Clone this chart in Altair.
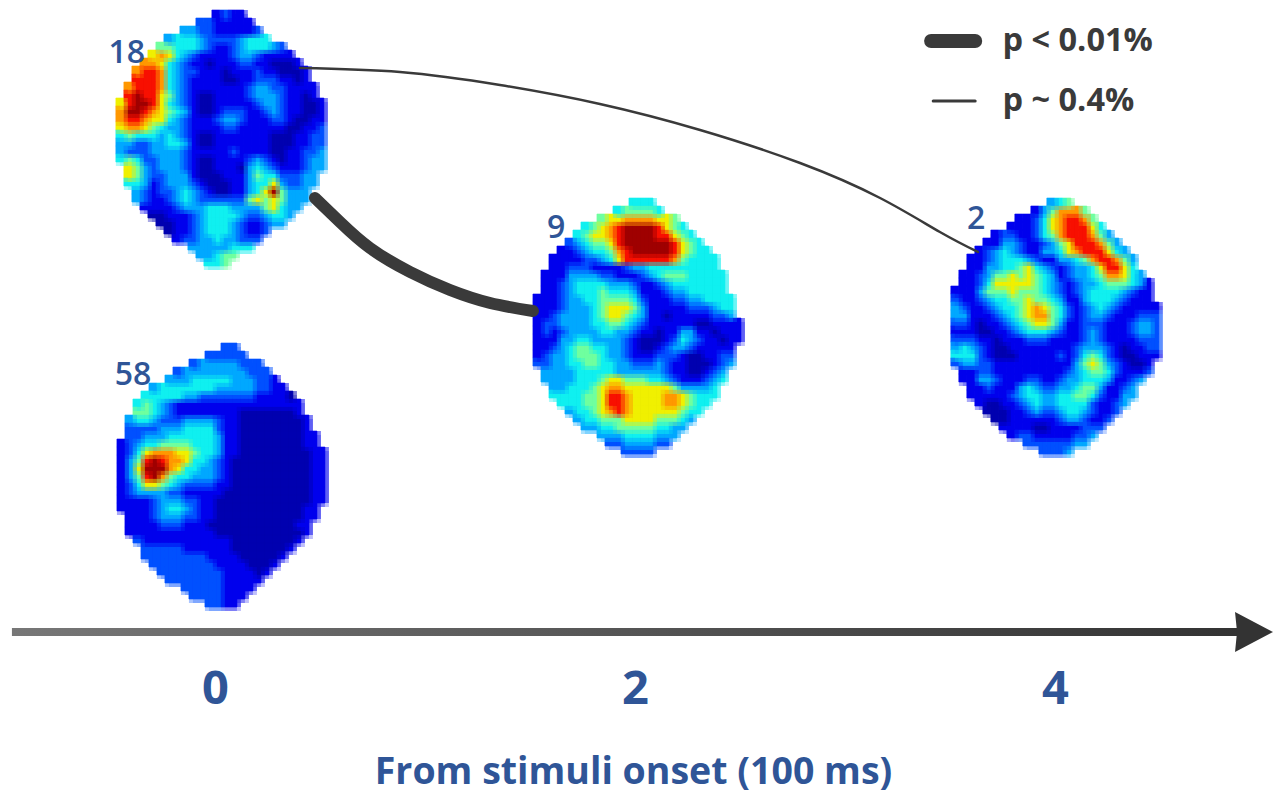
import altair as alt
import pandas as pd

map_18 = [
"............1211",
"..........2211111",
"........3322111112",
"......3444322223444",
".....5544432112344432",
"....676432111123321111",
"...77643211011122110001",
"..7887432211101112110001",
"..8887432111100112221101",
".788874321111111233221111",
".898865321001111233321101",
"68998643210011111233211001",
"79987654310012221123211001",
"78876643211123321112210011",
"67765433211112211111100112",
"45444343210011111110001122",
"33223344310011111110001122",
"32223333211111211110011223",
"45422333210011112321011233",
".6532333210011103432111233",
".653223331000111354422233",
".443123332100011344632233",
"..3212234321001134695333",
"..3211234322222256565333",
"...11112333444333356433",
"....001112344443223443",
".....0011234443211233",
"......0112344432112",
".......12233433222",
".........33333444",
"..........33455",
"...........445",
]
map_58 = [
".............22",
"...........22222",
".........233333222",
".......233333333222",
"......33344444333221",
"....34444444333332211",
"...4444433222222211110",
"..454321111111111111111",
"..554321111111100000001",
".34432223333211000000001",
".22223334444211000000001",
".223334444443110000000011",
"1234455554443110000000011",
"12467776654431100000000011",
"13589877644321000000000011",
"13699976443321000000000011",
"13589754433321000000000011",
"12466543222211000000000011",
"12333322111110000000000011",
"11112333221100000000000011",
"1111234432110000000000011",
".111233322110000000000011",
".11112221110000000000011",
".11111111111000000000001",
"..211111111111000000001",
"...2222211111100000001",
"...222222221111000001",
"....2222222211110001",
".....22222222111101",
"......222222211111",
"........222221111",
".........2222111",
"...........2211",
]
map_9 = [
"............444",
"..........455554",
"........5667777665",
"......4567899998654",
".....456678999988654",
"....23455689999998654",
"...1123445789999986544",
"..111122346888888754444",
"..112221111233444444444",
".11133332211123455544444",
".11234444333211234444444",
".11234445444311123344444",
"1112334455554211122334444",
"1112333456665311111222344",
"1123333456654311011111223",
"12233334455432111111001111",
"12123333443321101133110111",
"11133443333210001243211011",
"1123455443321001233211111",
"1233455543321112221001122",
"2233445544332223211000123",
".33334444433333321100123",
".33334445665554432111234",
"..334445677666666533334",
"..444455688766667765444",
"...4445568876666776544",
"....34456787666666544",
".....344555666655543",
"......3344555554433",
"........3334444333",
".........22333322",
"...........2222",
]
map_2 = [
"............345",
"..........1357775",
"........1124678875",
".......111246788864",
".....122112457888753",
"....11332112356888753",
"...1234321133467888643",
"..112344432113345788753",
"..113344564321233468864",
".11235565654312334577643",
".112466666543212334555431",
"1113555655543212344443211",
"2112344556554311344432111",
"32112344567654212343211111",
"33111234567754212332111222",
"22101123456653112221112332",
"11100112344432112321112332",
"22211011122211112321111222",
"34321001111111123332101122",
"44421000111112124542100111",
"2332211111111113565321001",
".112211111111123455421112",
".11332111221123344431123",
"..112111343223345531123",
"..111112344334455421133",
"...1001123433444421123",
"....00011232234432112",
".....001111112332112",
"......1111001111222",
".......12211111223",
".........22222233",
"...........2223",
]

map_labels = ["18", "58", "9", "2"]
map_grids = [map_18, map_58, map_9, map_2]
map_left = [-0.472, -0.467, 1.514, 3.504]
map_top = [2, 335, 190, 190]
label_x = [-0.42, -0.39, 1.625, 3.625]
label_y = [45, 367, 220, 211]

thin_t = [0.405, 0.881, 1.357, 1.833, 2.31, 2.786, 3.167, 3.452, 3.633]
thin_y = [60, 64, 77, 96, 122, 155, 190, 224, 244]
thick_t = [0.476, 0.595, 0.738, 0.929, 1.119, 1.31, 1.514]
thick_y = [190, 214, 240, 264, 282, 295, 303]

legend_text = ["p < 0.01%", "p ~ 0.4%"]
legend_t = [3.75, 3.75]
legend_y = [33, 93]
tick_values = [0, 2, 4]
axis_title = "From stimuli onset (100 ms)"

jet_domain = [0, 1, 2, 3, 4, 5, 6, 7, 8, 9]
jet_colors = ["#0000b0", "#0000ee", "#0050ff", "#00a8ff", "#10f0f0",
              "#70ffa0", "#f0f000", "#ff9800", "#f81000", "#a00000"]

W, H = 1266, 640
CELL_T, CELL_Y = 8 / 210, 8
x_scale = alt.Scale(domain=[-207 / 210, (W - 207) / 210], nice=False, zero=False)
y_scale = alt.Scale(domain=[H, 0], nice=False, zero=False)
AX = alt.Axis(values=tick_values, title=axis_title, domain=False, ticks=False, grid=False,
              labelFont="Open Sans", labelFontSize=47, labelFontWeight=700, labelColor="#2f5597",
              labelPadding=18, format="d", titleFont="Open Sans", titleFontSize=37.5,
              titleFontWeight=700, titleColor="#2f5597", titlePadding=41, titleX=625)
X = alt.X("t:Q", scale=x_scale, axis=AX)
Y = alt.Y("y:Q", scale=y_scale, axis=None)

rows = []
for name, grid, left, top in zip(map_labels, map_grids, map_left, map_top):
    for r, line_ in enumerate(grid):
        for c, ch in enumerate(line_):
            if ch != ".":
                rows.append({"map": name, "t": left + c * CELL_T, "t2": left + (c + 1) * CELL_T,
                             "y": top + r * CELL_Y, "y2": top + (r + 1) * CELL_Y, "v": int(ch)})
cells = pd.DataFrame(rows)
col = alt.Scale(domain=jet_domain, range=jet_colors)

def heat_layer(shift_t, shift_y, alpha):
    d = cells.copy()
    d["t"] += shift_t; d["t2"] += shift_t; d["y"] += shift_y; d["y2"] += shift_y
    mark = alt.Chart(d).mark_rect(opacity=alpha, strokeWidth=0 if alpha < 1 else 0.6)
    enc = dict(x=X, x2="t2:Q", y=Y, y2="y2:Q", fill=alt.Fill("v:Q", scale=col, legend=None))
    if alpha == 1:
        enc["stroke"] = alt.Stroke("v:Q", scale=col, legend=None)
    return mark.encode(**enc)

heat = [heat_layer(0, 0, 1),
        heat_layer(CELL_T / 2, 0, 1 / 2),
        heat_layer(0, CELL_Y / 2, 1 / 3),
        heat_layer(CELL_T / 2, CELL_Y / 2, 1 / 4)]

def line(ts, ys, width, colour="#3a3a3a"):
    d = pd.DataFrame({"t": ts, "y": ys, "o": range(len(ts))})
    return alt.Chart(d).mark_line(strokeWidth=width, color=colour, strokeCap="round",
                                  interpolate="natural").encode(x=X, y=Y, order="o:Q")

thin = line(thin_t, thin_y, 2.5)
thick = line(thick_t, thick_y, 12)
leg1 = line([3.41, 3.62], [33, 33], 14)
leg2 = line([3.42, 3.62], [93, 93], 3)

shaft_df = pd.DataFrame({"t": [-0.967], "t2": [4.88], "y": [620], "y2": [628]})
shaft = alt.Chart(shaft_df).mark_rect(
    color=alt.Gradient(gradient="linear", stops=[alt.GradientStop(color="#777777", offset=0),
                                                 alt.GradientStop(color="#333333", offset=1)])
).encode(x=X, x2="t2:Q", y=Y, y2="y2:Q")
head = alt.Chart(pd.DataFrame({"t": [4.943], "y": [624]})).mark_point(
    shape="M-0.9,-1 L1,0 L-0.9,1 L-0.8,0 Z", size=1600, filled=True, color="#333333", opacity=1,
    clip=False
).encode(x=X, y=Y)

labels = alt.Chart(pd.DataFrame({"t": label_x, "y": label_y, "s": map_labels})).mark_text(
    font="Open Sans", fontSize=32, fontWeight=600, color="#2f5597", baseline="middle"
).encode(x=X, y=Y, text="s:N")
legend = alt.Chart(pd.DataFrame({"t": legend_t, "y": legend_y, "s": legend_text})).mark_text(
    font="Open Sans", fontSize=32.5, fontWeight=700, color="#3a3a3a", align="left", baseline="middle"
).encode(x=X, y=Y, text="s:N")

chart = alt.layer(*heat, thin, thick, leg1, leg2, shaft, head, labels, legend).properties(
    width=W, height=H, padding={"left": 0, "top": 0, "right": 0, "bottom": 145},
    autosize=alt.AutoSizeParams(type="none")
).configure_view(stroke=None)
chart.save("out.html", embed_options={"renderer": "svg", "actions": False})
